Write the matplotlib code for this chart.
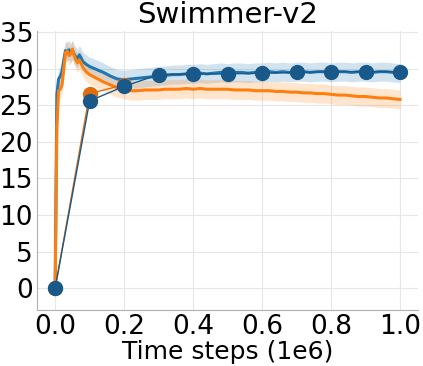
import numpy as np
import matplotlib.pyplot as plt

# training curves (x in units of 1e6 time steps)
steps = [0.0, 0.005, 0.01, 0.015, 0.02, 0.025, 0.03, 0.035, 0.04, 0.045,
         0.05, 0.055, 0.06, 0.065, 0.07, 0.075, 0.08, 0.09, 0.1,
         0.12, 0.14, 0.16, 0.18, 0.2, 0.22, 0.24, 0.26, 0.28, 0.30,
         0.32, 0.34, 0.36, 0.38, 0.40, 0.42, 0.44, 0.46, 0.48, 0.50,
         0.52, 0.54, 0.56, 0.58, 0.60, 0.62, 0.64, 0.66, 0.68, 0.70,
         0.72, 0.74, 0.76, 0.78, 0.80, 0.82, 0.84, 0.86, 0.88, 0.90,
         0.92, 0.94, 0.96, 0.98, 1.00]
blue_mean = [0.0, 26.5, 28.6, 29.0, 29.6, 31.2, 32.5, 32.3, 32.6, 32.2,
             32.5, 32.0, 31.6, 31.4, 31.9, 31.5, 31.0, 30.6, 30.3,
             29.9, 29.5, 29.0, 28.6, 28.5, 28.6, 28.7, 28.8, 28.9, 29.0,
             29.1, 29.2, 29.2, 29.3, 29.3, 29.4, 29.3, 29.4, 29.5, 29.4,
             29.5, 29.5, 29.4, 29.5, 29.5, 29.6, 29.5, 29.6, 29.5, 29.6,
             29.6, 29.5, 29.6, 29.6, 29.5, 29.6, 29.6, 29.5, 29.6, 29.6,
             29.5, 29.6, 29.6, 29.5, 29.4]
orange_mean = [0.0, 22.0, 27.0, 27.2, 27.8, 30.0, 32.2, 32.4, 31.8, 32.0,
               32.7, 31.8, 31.2, 30.8, 31.2, 30.8, 30.2, 29.6, 29.2,
               28.7, 28.2, 27.8, 27.4, 27.2, 27.0, 27.0, 27.1, 27.1, 27.1,
               27.2, 27.2, 27.2, 27.3, 27.2, 27.3, 27.2, 27.2, 27.2, 27.2,
               27.1, 27.1, 27.1, 27.0, 27.0, 27.0, 26.9, 26.9, 26.8, 26.8,
               26.7, 26.7, 26.6, 26.6, 26.5, 26.4, 26.4, 26.3, 26.2, 26.2,
               26.1, 26.0, 26.0, 25.9, 25.8]
blue_std = 1.3
orange_std = 1.3

# evaluation points
eval_blue_x = [0.0, 0.1, 0.2, 0.3, 0.4, 0.5, 0.6, 0.7, 0.8, 0.9, 1.0]
eval_blue_y = [0.0, 25.6, 27.6, 29.2, 29.3, 29.3, 29.4, 29.5, 29.6, 29.6, 29.6]
eval_orange_x = [0.0, 0.1, 0.2]
eval_orange_y = [0.0, 26.6, 27.8]

fig = plt.figure(figsize=(4.23, 3.66), dpi=100)
ax = fig.add_axes([0.088, 0.153, 0.9, 0.762])

x = np.array(steps)
b = np.array(blue_mean)
o = np.array(orange_mean)
ax.fill_between(x, b - blue_std, b + blue_std, color='#1f77b4', alpha=0.2, lw=0)
ax.fill_between(x, o - orange_std, o + orange_std, color='#ff7f0e', alpha=0.2, lw=0)
ax.plot(x, b, color='#1f77b4', lw=2.2)
ax.plot(x, o, color='#ff7f0e', lw=2.2)

ax.plot(eval_orange_x, eval_orange_y, '-o', color='#e06c0c', lw=1, ms=10)
ax.plot(eval_blue_x, eval_blue_y, '-o', color='#19598a', lw=1, ms=10)

ax.set_xlim(-0.052, 1.052)
ax.set_ylim(-3.0, 35.15)
ax.set_xticks([0.0, 0.2, 0.4, 0.6, 0.8, 1.0])
ax.set_yticks([0, 5, 10, 15, 20, 25, 30, 35])
ax.grid(True, color='#e6e6e6', lw=0.8)
ax.set_axisbelow(True)
ax.tick_params(length=0, labelsize=19, pad=3)
for s in ['top', 'right']:
    ax.spines[s].set_visible(False)
for s in ['left', 'bottom']:
    ax.spines[s].set_color('#b0b0b0')
ax.set_title("Swimmer-v2", fontsize=21, pad=6)
ax.set_xlabel("Time steps (1e6)", fontsize=18, labelpad=0)

plt.savefig("out.png", dpi=100)
plt.close()
